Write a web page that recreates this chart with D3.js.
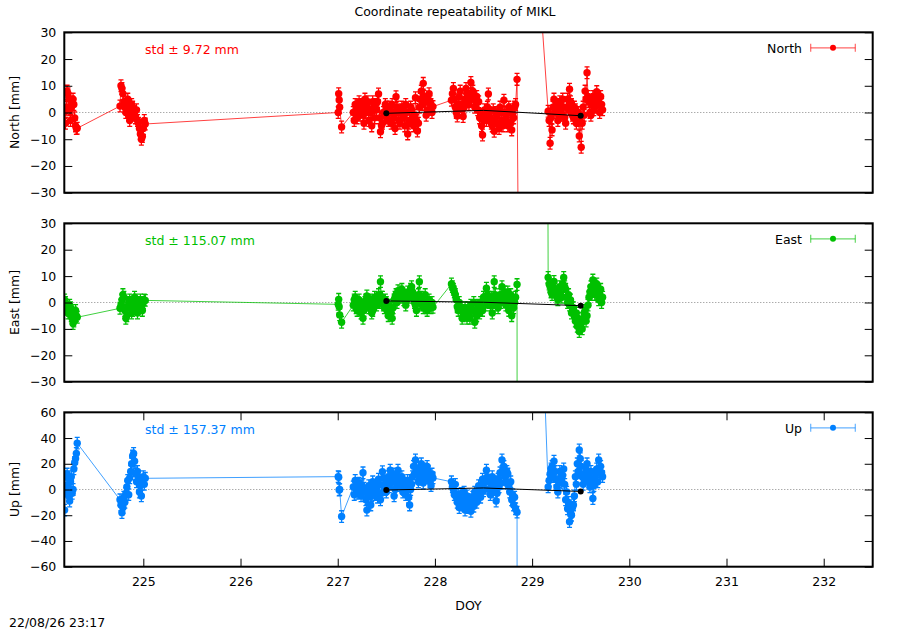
<!DOCTYPE html>
<html><head><meta charset="utf-8">
<script src="https://cdn.jsdelivr.net/npm/d3@7/dist/d3.min.js"></script>
<style>
body{margin:0;background:#fff}
text{font-family:"DejaVu Sans",sans-serif;font-size:12.5px;fill:#000}
</style></head>
<body><svg id="chart" width="900" height="630"></svg>
<script>
// ---------- data ----------
const doy = [
 224.190,224.199,224.207,224.216,224.225,224.233,224.242,224.251,224.259,224.268,224.277,224.285,224.294,224.303,224.311,224.320,
 224.76,224.77,224.78,224.79,224.80,224.81,224.82,224.83,224.84,224.85,224.86,224.87,224.88,224.89,224.90,224.91,224.92,224.93,224.94,224.95,224.96,224.97,224.98,224.99,225.00,225.01,225.02,
 227.005,227.010,227.015,227.020,227.040,
 227.16,227.17,227.18,227.19,227.20,227.21,227.22,227.23,227.24,227.25,227.26,227.27,227.28,227.29,227.30,227.31,227.32,227.33,227.34,227.35,
 227.36,227.37,227.38,227.39,227.40,227.41,227.42,227.43,227.44,227.45,227.46,227.47,227.48,227.49,227.50,227.51,227.52,227.53,227.54,227.55,
 227.56,227.57,227.58,227.59,227.60,227.61,227.62,227.63,227.64,227.65,227.66,227.67,227.68,227.69,227.70,227.71,227.72,227.73,227.74,227.75,
 227.76,227.77,227.78,227.79,227.80,227.81,227.82,227.83,227.84,227.85,227.86,227.87,227.88,227.89,227.90,227.91,227.92,227.93,227.94,227.95,
 227.96,227.97,227.98,
 228.17,228.18,228.19,228.20,228.21,228.22,228.23,228.24,228.25,228.26,228.27,228.28,228.29,228.30,228.31,228.32,228.33,228.34,228.35,228.36,
 228.37,228.38,228.39,228.40,228.41,228.42,228.43,228.44,228.45,228.46,228.47,228.48,228.49,228.50,228.51,228.52,228.53,228.54,228.55,228.56,
 228.57,228.58,228.59,228.60,228.61,228.62,228.63,228.64,228.65,228.66,228.67,228.68,228.69,228.70,228.71,228.72,228.73,228.74,228.75,228.76,
 228.77,228.78,228.79,228.80,228.81,228.82,228.83,228.845,
 228.86,229.09,
 229.165,229.175,229.185,229.195,229.205,229.215,229.225,229.235,229.245,229.255,229.265,229.275,229.285,229.295,229.305,229.315,229.325,229.335,229.345,229.355,
 229.365,229.375,229.385,229.395,229.405,229.415,229.425,229.435,229.445,229.455,229.465,229.475,229.485,229.495,229.505,229.515,229.525,229.535,229.545,229.555,
 229.565,229.575,229.585,229.595,229.605,229.615,229.625,229.635,229.645,229.655,229.665,229.675,229.685,229.695,229.705,229.715,229.725
];
const north = [
 0,-4,2,8,7,5,1,-3,2,4,5,3,-2,-5,-6,-5.9,
 2.4,10,9,7,4,2,0,3,5,-1,-3,1,3,2,-1,0,-2,1,-3,-4,-6,-8,-10,-9,-6,-3,-4.3,
 0,7,4.7,2,-5.4,
 0,-3,3,1,-2,2,4,-1,1,3,-1,-4,5,0,2,4,-3,1,0,-5,4,2,-2,3,1,4,6.9,-2,-7.2,-5,-4,0,-1,3,2,-2,-3,2,1,-4,3,0,-2,-6,5.9,2,0,-3,-4,1,2,-2,-1,-5,3,0,-8,-4,-3,2,1,-2,-5,-1,5.5,-3,-6.9,-4,2,5,8,3,10.9,6,4,-1,1,5,7,4,3,0,2.2,
 4.6,7,9,5,2,0,-1.3,3,6,8,3,1,-1.5,2,5,9,7,4,3,6,11.2,7,8,5,2,4,6,1,4,-2,-1,-5,-8.4,-3,1,-1,-3,2,6.9,0,-2,-4,-5,1,-7,-3,0,-1,-4,-6,2,0,-3,-5,4.6,0,-1,-3,-5,2,1,-4,-6.5,-1,-2,2,3,12.4,
 -60,40,
 0.5,-3,-11.5,-2,-6.5,2,5,0,1,3,-3,-1,4,1,-1,5,2,-2,-4,2,5,1,8.7,4,3,-1,-2,2,1,-4,-3,0,-8.8,-2,-13,-4,2,-1,8,5,14.9,6,4,0,-1,3,6,1,2,5,7.8,4,3,0,6,3,1
];
const east = [
 1,0,-1,-2,-4,-3,-1,-2,-5,-6,-8,-7,-4,-3,-5,-5.6,
 -2.2,-1,1,3,2,-3,-6,-5,-2,0,1,-1,-4,-3,0,2,1,-2,-4,-1,0,1,-2,-3,0,1,0.8,
 -0.7,1.2,-1.6,-4.7,-7.5,
 -1,1,2,-2,-3,0,1,-2,-4,-1,-6,-3,0,1,2.5,-1,-2,0,1,-4,-3,-1,2,0,-1,1,3,0,7.9,2,2,-1,-2,1,0,-3,-5,-1,-2,-4,-6,-2,1,2,3,0,4.5,3,2,4,5,3,1,2,-1,1,4,2,3,5,6,4,2,0,-1,-3,1,3,7.9,0,2,-1,-2,0,3,-2,-3,0,1,-1,-2,0,-1.8,
 7,6,5,4,3,1,-1.6,-3,0,-2,-3,-6,-5,-3,-2,-4,-6,-2,-4,-6,-1,-3,-3,0,-7.5,-4,-5,-1,-2,-4,0,-1,-3,2,1,-1,5.4,3,2,0,-1,2,-4,0,7.9,3,1,-1,-2,1,3,0,6,2,2,4,-1,1,4,-3,1,3,-5,-1,-2,0,2,6.8,
 -1300,1000,
 9.5,7,6,4,3,6,8,5,4,2,1,4,6,3,2,7,9.5,6,5,2,0,3,-1,1,-4,-2,-2,-5,-7,-4,-9,-6,-11,-9,-8,-10,-6,-4,-3,-7,-5,-1,2,4,6,3,8.5,5,3,6,7,4,1,3,5,0,2
];
const up = [
 -16,-1,10,12,3,-5,-9,6,10,-3,0,16,21,24,28,36,
 -8,-12,-18,-14,-6,-10,-3,2,7,-4,9,14,20,26,28,22,12,6,14,10,-2,3,-5,7,10,4,8.7,
 10,9.5,-0.4,0,-21,
 2,-4,7,0,-3,4,5,-2,-5,3,13,1,-2,-8,-16,-6,3,-2,-12,-5,6,0,-4,2,1,-6,8,4,-8,-3,13.8,9,4,0,-2,5,10,2,15,8,6,12,-5,0,8,3,15,10,3,6,10,-2,0,5,-4,2,7,-6,-12,0,4,10,18,12,23,17,12,6,8,14,20,10,5,12,16,9,18,14,11,6,3,12,9,
 6,2,0,-4,4,-6,-10,-4,-14,-8,-3,-12,-8,-2,-16,-10,-5,-14,-12,-8,-17,-11,-6,-13,-2,-7,-10,-4,3,-2,-6,4,8,-1,1,6,15,10,6,0,-4,4,10,-2,2,6,-9,-3,8,2,13,5,23,15,18,10,5,14,12,3,-2,6,-8,-4,-12,-6,-15,-17.6,
 -1800,156,
 2,7,12,16,18,10,22,14,8,2,-2,6,14,9,5,11,16,4,-8,-2,-15,-10,-25,-18,-20,-14,-12,-5,10,4,20,14,30.7,24,18,10,4,8,12,16,20,11,6,2,14,8,-7,3,9,12,16,6,23,14,18,13,10
];
const sigma = {north:2.2, east:2.2, up:4.5};
const meanDoy   = [227.5, 228.5, 229.5];
const meanNorth = [-0.3, 0.8, -1.2];
const meanEast  = [0.6, 0.1, -1.2];
const meanUp    = [-0.4, 1.2, -1.5];
const meanMarked = [true, false, true];
const xDomain = [224.187, 232.504];
const xTicks = [225,226,227,228,229,230,231,232];
const neTicks = [-30,-20,-10,0,10,20,30];
const upTicks = [-60,-40,-20,0,20,40,60];
const names = ["North","East","Up"];
const stdLabels = ["std \u00b1 9.72 mm","std \u00b1 115.07 mm","std \u00b1 157.37 mm"];
const title = "Coordinate repeatability of MIKL";
const stamp = "22/08/26 23:17";

// ---------- drawing ----------
const svg = d3.select("#chart");
const X0 = 64.3, X1 = 872.7;
const x = d3.scaleLinear().domain(xDomain).range([X0, X1]);

const panels = [
  {key:"north", vals:north, mean:meanNorth, color:"#ff0000", dom:[-30,30], ticks:neTicks, top:32.3, bottom:192.7},
  {key:"east",  vals:east,  mean:meanEast,  color:"#00c000", dom:[-30,30], ticks:neTicks, top:223.3, bottom:381.7},
  {key:"up",    vals:up,    mean:meanUp,    color:"#0080ff", dom:[-60,60], ticks:upTicks, top:412.3, bottom:566.7}
];

svg.append("text").attr("x", 455).attr("y", 16).attr("text-anchor","middle").text(title);

panels.forEach((p, pi) => {
  const y = d3.scaleLinear().domain(p.dom).range([p.bottom, p.top]);
  const g = svg.append("g");
  const cid = "clip" + pi;
  svg.append("clipPath").attr("id", cid).append("rect")
    .attr("x", X0).attr("y", p.top).attr("width", X1 - X0).attr("height", p.bottom - p.top);
  const plot = g.append("g").attr("clip-path", `url(#${cid})`);

  plot.append("line").attr("x1", X0).attr("x2", X1).attr("y1", y(0)).attr("y2", y(0))
    .attr("stroke", "#888").attr("stroke-width", 1).attr("stroke-dasharray", "1,2");

  const inR = v => v >= p.dom[0] && v <= p.dom[1];
  const segs = [];
  for (let i = 1; i < doy.length; i++) {
    const a = p.vals[i-1], b = p.vals[i];
    if (!inR(a) && !inR(b)) continue;
    segs.push([[doy[i-1], a], [doy[i], b]]);
  }
  plot.selectAll("line.seg").data(segs).join("line").attr("class","seg")
    .attr("x1", d => x(d[0][0])).attr("y1", d => y(d[0][1]))
    .attr("x2", d => x(d[1][0])).attr("y2", d => y(d[1][1]))
    .attr("stroke", p.color).attr("stroke-opacity", 0.75).attr("stroke-width", 1);

  const pts = doy.map((t, i) => ({t, v: p.vals[i]}));
  const s = sigma[p.key];
  const eb = plot.selectAll("g.eb").data(pts).join("g").attr("class","eb")
    .attr("stroke", p.color).attr("stroke-width", 1.3);
  eb.append("line").attr("x1", d => x(d.t)).attr("x2", d => x(d.t))
    .attr("y1", d => y(d.v - s)).attr("y2", d => y(d.v + s));
  eb.append("line").attr("x1", d => x(d.t) - 2.5).attr("x2", d => x(d.t) + 2.5)
    .attr("y1", d => y(d.v - s)).attr("y2", d => y(d.v - s));
  eb.append("line").attr("x1", d => x(d.t) - 2.5).attr("x2", d => x(d.t) + 2.5)
    .attr("y1", d => y(d.v + s)).attr("y2", d => y(d.v + s));
  plot.selectAll("circle.pt").data(pts).join("circle").attr("class","pt")
    .attr("cx", d => x(d.t)).attr("cy", d => y(d.v)).attr("r", 3.7).attr("fill", p.color);

  const mData = meanDoy.map((t, i) => ({t, v: p.mean[i], m: meanMarked[i]}));
  plot.append("path").datum(mData)
    .attr("d", d3.line().x(d => x(d.t)).y(d => y(d.v)))
    .attr("fill", "none").attr("stroke", "#000").attr("stroke-width", 1);
  plot.selectAll("circle.mn").data(mData.filter(d => d.m)).join("circle").attr("class","mn")
    .attr("cx", d => x(d.t)).attr("cy", d => y(d.v)).attr("r", 3).attr("fill", "#000");

  const axL = g.append("g").attr("transform", `translate(${X0},0)`)
    .call(d3.axisLeft(y).tickValues(p.ticks).tickSize(-8).tickPadding(8));
  const axR = g.append("g").attr("transform", `translate(${X1},0)`)
    .call(d3.axisRight(y).tickValues(p.ticks).tickSize(-8).tickFormat(""));
  [axL, axR].forEach(a => { a.select(".domain").remove(); a.selectAll("text").style("font-family", "DejaVu Sans").style("font-size","12.5px"); a.selectAll("line").attr("stroke","#000"); });

  if (pi === 2) {
    const axB = g.append("g").attr("transform", `translate(0,${p.bottom})`)
      .call(d3.axisBottom(x).tickValues(xTicks).tickSize(-8).tickPadding(10.5));
    const axT = g.append("g").attr("transform", `translate(0,${p.top})`)
      .call(d3.axisTop(x).tickValues(xTicks).tickSize(-8).tickFormat(""));
    [axB, axT].forEach(a => { a.select(".domain").remove(); a.selectAll("text").style("font-family", "DejaVu Sans").style("font-size","12.5px"); a.selectAll("line").attr("stroke","#000"); });
  }

  g.append("rect").attr("x", X0).attr("y", p.top).attr("width", X1 - X0).attr("height", p.bottom - p.top)
    .attr("fill", "none").attr("stroke", "#000").attr("stroke-width", 2);

  g.append("text").attr("transform", `translate(19,${(p.top + p.bottom) / 2}) rotate(-90)`)
    .attr("text-anchor", "middle").text(names[pi] + " [mm]");

  g.append("text").attr("x", 145).attr("y", p.top + 21.5).style("fill", p.color)
    .text(stdLabels[pi]);

  const ly = p.top + 15.5;
  g.append("text").attr("x", 802).attr("y", p.top + 21).attr("text-anchor", "end").text(names[pi]);
  const lg = g.append("g").attr("stroke", p.color).attr("stroke-opacity", 0.6).attr("stroke-width", 1.2);
  lg.append("line").attr("x1", 810.7).attr("x2", 855.3).attr("y1", ly).attr("y2", ly);
  lg.append("line").attr("x1", 810.7).attr("x2", 810.7).attr("y1", ly - 4).attr("y2", ly + 4);
  lg.append("line").attr("x1", 855.3).attr("x2", 855.3).attr("y1", ly - 4).attr("y2", ly + 4);
  g.append("circle").attr("cx", 833).attr("cy", ly).attr("r", 3).attr("fill", p.color);
});

svg.append("text").attr("x", 468.5).attr("y", 610).attr("text-anchor", "middle").text("DOY");
svg.append("text").attr("x", 9).attr("y", 627).text(stamp);
</script>
</body></html>
